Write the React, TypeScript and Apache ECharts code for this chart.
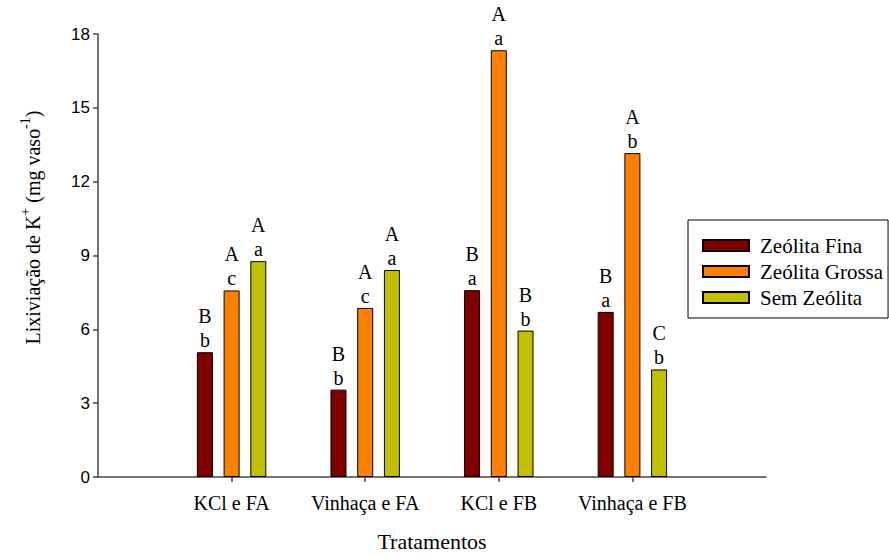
import React, { useEffect, useRef } from 'react';
import * as echarts from 'echarts';

const categories = ['', 'KCl e FA', 'Vinhaça e FA', 'KCl e FB', 'Vinhaça e FB', ''];
const seriesNames = ['Zeólita Fina', 'Zeólita Grossa', 'Sem Zeólita'];
const fina = [5.07, 3.55, 7.59, 6.71];
const grossa = [7.58, 6.87, 17.34, 13.16];
const sem = [8.77, 8.41, 5.95, 4.37];
const finaUpper = ['B', 'B', 'B', 'B'];
const finaLower = ['b', 'b', 'a', 'a'];
const grossaUpper = ['A', 'A', 'A', 'A'];
const grossaLower = ['c', 'c', 'a', 'b'];
const semUpper = ['A', 'A', 'B', 'C'];
const semLower = ['a', 'a', 'b', 'b'];
const colors = ['#800000', '#ff8000', '#c0c000'];
const yMin = 0;
const yMax = 18;
const yInterval = 3;

const SERIF = 'Liberation Serif';
const SANS = 'Liberation Sans';

export default function App() {
  const ref = useRef<HTMLDivElement>(null);
  useEffect(() => {
    if (!ref.current) return;
    const chart = echarts.init(ref.current, undefined, { renderer: 'svg' });
    const pad = (arr: number[]) => ['-', ...arr, '-'];
    const values = [fina, grossa, sem];
    const uppers = [finaUpper, grossaUpper, semUpper];
    const lowers = [finaLower, grossaLower, semLower];
    const axisLineStyle = { color: '#444', width: 1.5 };
    chart.setOption({
      animation: false,
      backgroundColor: '#fff',
      textStyle: { fontFamily: SERIF },
      grid: { left: 98, right: 123, top: 34, bottom: 75, containLabel: false },
      legend: {
        orient: 'vertical',
        left: 688,
        top: 220,
        icon: 'rect',
        itemWidth: 46,
        itemHeight: 11,
        itemGap: 5,
        padding: [15, 5, 10, 14],
        borderColor: '#000',
        borderWidth: 1,
        textStyle: { fontFamily: SERIF, fontSize: 21, color: '#000', lineHeight: 20, padding: [0, 0, 0, 6] },
        data: seriesNames,
      },
      xAxis: {
        type: 'category',
        boundaryGap: false,
        data: categories,
        axisLine: { show: true, lineStyle: axisLineStyle },
        axisTick: {
          show: true,
          length: 5,
          lineStyle: axisLineStyle,
          interval: (i: number) => i > 0 && i < categories.length - 1,
        },
        axisLabel: { interval: 0, fontFamily: SERIF, fontSize: 20, color: '#000', margin: 16 },
        splitLine: { show: false },
        name: 'Tratamentos',
        nameLocation: 'middle',
        nameGap: 53,
        nameTextStyle: { fontFamily: SERIF, fontSize: 22, color: '#000' },
      },
      yAxis: {
        type: 'value',
        min: yMin,
        max: yMax,
        interval: yInterval,
        axisLine: { show: true, lineStyle: axisLineStyle },
        axisTick: { show: true, length: 5, lineStyle: axisLineStyle },
        axisLabel: { fontFamily: SANS, fontSize: 17, color: '#000', margin: 8 },
        splitLine: { show: false },
        name: '{a|Lixiviação de K}{s|+}{a| (mg vaso}{s|-1}{a|)}',
        nameLocation: 'middle',
        nameRotate: 90,
        nameGap: 55,
        nameTextStyle: {
          fontFamily: SERIF,
          padding: [0, 0, 0, 56],
          rich: {
            a: { fontFamily: SERIF, fontSize: 20, color: '#000', lineHeight: 20, verticalAlign: 'bottom' },
            s: { fontFamily: SERIF, fontSize: 14, color: '#000', lineHeight: 14, verticalAlign: 'bottom', padding: [0, 0, 11, 0] },
          },
        },
      },
      series: seriesNames.map((name, si) => ({
        name,
        type: 'bar',
        data: pad(values[si]),
        barWidth: 16,
        barGap: '67%',
        itemStyle: { color: colors[si], borderColor: '#000', borderWidth: 1 },
        label: {
          show: true,
          position: 'top',
          distance: 0,
          fontFamily: SERIF,
          fontSize: 20,
          lineHeight: 24,
          color: '#000',
          formatter: (p: any) => `${uppers[si][p.dataIndex - 1]}\n${lowers[si][p.dataIndex - 1]}`,
        },
      })),
    });
    return () => chart.dispose();
  }, []);
  return <div ref={ref} style={{ position: 'fixed', left: 0, top: 0, width: 889, height: 557 }} />;
}
